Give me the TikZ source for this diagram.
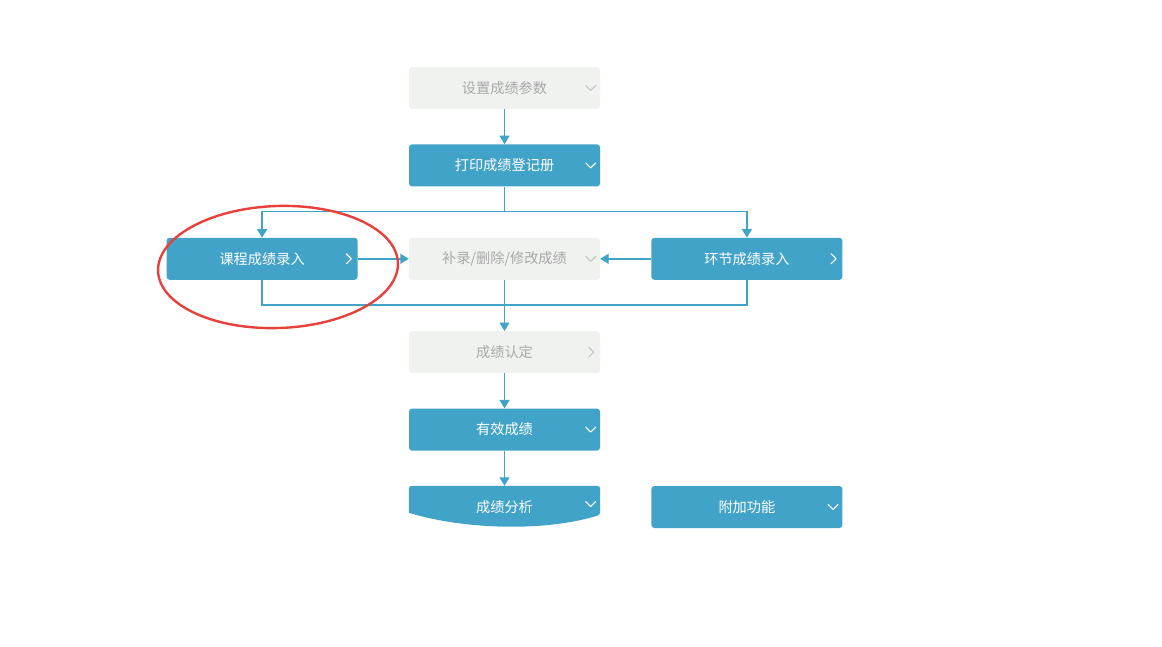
\documentclass[tikz,border=0pt]{standalone}
\usepackage{fontspec}
\newfontfamily\cjk{Noto Sans CJK SC}
\usetikzlibrary{positioning,arrows.meta,calc,backgrounds}
\definecolor{stepblue}{HTML}{42A3C9}
\definecolor{stepgrey}{HTML}{F0F2F0}
\definecolor{greytext}{HTML}{A8A8A8}
\definecolor{chevgrey}{HTML}{C6C6C6}
\definecolor{markred}{HTML}{E8403A}

\begin{document}
\begin{tikzpicture}[x=1pt,y=-1pt,
		box/.style={rectangle,rounded corners=3pt,minimum width=191pt,minimum height=42pt,
			inner sep=0pt,font=\cjk\fontsize{14.2}{16}\selectfont},
		bluebox/.style={box,fill=stepblue,text=white},
		greybox/.style={box,fill=stepgrey,text=greytext},
		flow/.style={draw=stepblue,line width=1.4pt,-{Triangle[width=10pt,length=8.5pt]}},
		flowline/.style={draw=stepblue,line width=1.4pt},
		downchev/.pic={\draw[line width=1.1pt,line cap=round,line join=round] (-5,-2.5)--(0,2.5)--(5,-2.5);},
		rightchev/.pic={\draw[line width=1.1pt,line cap=round,line join=round] (-2.5,-5)--(2.5,0)--(-2.5,5);}
		]
	\useasboundingbox (0,0) rectangle (1162,646);

	\node[greybox] (set) at (504.5,88) {设置成绩参数};
	\node[bluebox, below=35pt of set] (print) {打印成绩登记册};
	\node[greybox, below=51pt of print] (fix) {补录/删除/修改成绩};
	\node[bluebox, left=51pt of fix] (course) {课程成绩录入};
	\node[bluebox, right=51pt of fix] (stage) {环节成绩录入};
	\node[greybox, below=51pt of fix] (confirm) {成绩认定};
	\node[bluebox, below=35pt of confirm] (valid) {有效成绩};
	\node[box, text=white, below=35pt of valid] (anal) {成绩分析};
	\node[bluebox, right=51pt of anal] (extra) {附加功能};

	% wavy bottom of the analysis box
	\begin{scope}[on background layer]
		\fill[stepblue,rounded corners=3pt] ($(anal.north west)+(0,27)$) -- (anal.north west)
			-- (anal.north east) -- ($(anal.north east)+(0,29)$) [sharp corners]
			.. controls ($(anal.north east)+(-55,46)$) and ($(anal.north west)+(56,44)$)
			.. ($(anal.north west)+(0,27)$) -- cycle;
	\end{scope}

	\pic[chevgrey] at ([xshift=-9.5pt]set.east) {downchev};
	\pic[white] at ([xshift=-9.5pt]print.east) {downchev};
	\pic[chevgrey] at ([xshift=-9.5pt]fix.east) {downchev};
	\pic[white] at ([xshift=-9pt]course.east) {rightchev};
	\pic[white] at ([xshift=-9pt]stage.east) {rightchev};
	\pic[chevgrey] at ([xshift=-9pt]confirm.east) {rightchev};
	\pic[white] at ([xshift=-9.5pt]valid.east) {downchev};
	\pic[white] at ([xshift=-9.5pt,yshift=3pt]anal.east) {downchev};
	\pic[white] at ([xshift=-9.5pt]extra.east) {downchev};

	\coordinate[below=25pt of print] (split);
	\coordinate[below=25pt of fix] (merge);

	\draw[flow] (set) -- (print);
	\draw[flow] (print) -- (split) -| (course);
	\draw[flow] (split) -| (stage);
	\draw[flow] (course) -- (fix);
	\draw[flow] (stage) -- (fix);
	\draw[flowline] (course) |- (merge) -| (stage);
	\draw[flow] (fix) -- (confirm);
	\draw[flow] (confirm) -- (valid);
	\draw[flow] (valid) -- (anal);

	\draw[markred,line width=2.4pt,rotate around={2:(278,267)}] (278,267) ellipse [x radius=120, y radius=61];
\end{tikzpicture}
\end{document}
